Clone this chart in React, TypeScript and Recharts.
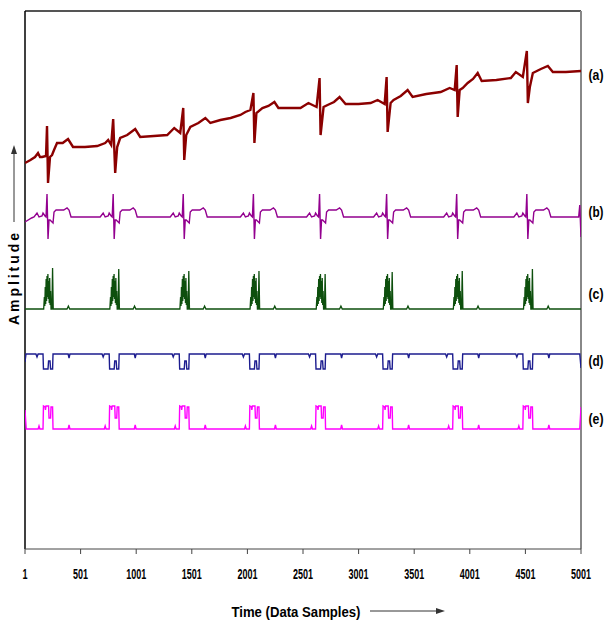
import { Line, LineChart, ReferenceLine, XAxis, YAxis } from "recharts";

const X_TICKS = [1, 501, 1001, 1501, 2001, 2501, 3001, 3501, 4001, 4501, 5001];
const SERIES_LABELS = ["(a)", "(b)", "(c)", "(d)", "(e)"];

// sample index of the R peak of every beat
const BEATS = [199, 794, 1424, 2055, 2650, 3253, 3883, 4514];

// (a) raw ECG with baseline wander, [sample, amplitude]
const SIGNAL_A = [
  [1, 386], [50, 389], [91, 392], [118, 396], [136, 392], [154, 392], [190, 393],
  [199, 423], [208, 366], [226, 392], [244, 394], [262, 399], [289, 406], [340, 406],
  [388, 410], [433, 402], [540, 402], [650, 403], [722, 406], [749, 409], [776, 404],
  [794, 430], [812, 376], [830, 402], [857, 411], [920, 414], [992, 420], [1037, 412],
  [1160, 413], [1280, 414], [1343, 421], [1397, 416], [1424, 441], [1433, 389],
  [1451, 414], [1488, 422], [1560, 426], [1623, 431], [1668, 426], [1758, 429],
  [1850, 431], [1938, 434], [1983, 437], [2028, 439], [2055, 456], [2064, 406],
  [2082, 436], [2136, 441], [2190, 443], [2244, 447], [2280, 441], [2380, 441],
  [2478, 441], [2550, 446], [2623, 442], [2650, 471], [2659, 414], [2686, 442],
  [2722, 444], [2780, 447], [2830, 452], [2884, 445], [3000, 445], [3109, 446],
  [3172, 449], [3235, 445], [3253, 472], [3262, 417], [3289, 446], [3316, 449],
  [3380, 453], [3442, 459], [3487, 452], [3610, 455], [3739, 457], [3820, 461],
  [3865, 459], [3883, 484], [3892, 432], [3910, 459], [3937, 461], [3982, 466],
  [4030, 470], [4072, 476], [4108, 468], [4240, 469], [4370, 471], [4415, 477],
  [4478, 472], [4514, 498], [4523, 446], [4541, 462], [4568, 476], [4640, 480],
  [4703, 483], [4748, 477], [4865, 477], [5001, 478],
];

// (b) filtered signal: one beat, [offset from R, amplitude]
const BASE_B = 332;
const HEAD_B = [[1, -5], [60, -1]];
const BEAT_B = [
  [-117, 0], [-90, 4], [-72, 0], [-45, 1], [-36, 4], [-18, 1], [-9, 0], [0, 23],
  [9, -22], [18, -3], [27, -3], [54, -6], [63, 5], [81, 7], [150, 7], [180, 9],
  [198, 7], [216, 0],
];
const TAIL_B = [[4980, 0], [4990, 12], [5001, -20]];

// (c) energy bursts
const BASE_C = 240;
const BEAT_C = [
  [-30, 0], [-24, 12], [-20, 3], [-16, 22], [-12, 5], [-8, 30], [-4, 8], [0, 33],
  [4, 12], [8, 35], [12, 10], [16, 28], [20, 6], [24, 31], [28, 4], [32, 18], [36, 0],
  [44, 0],
];
const SPIKE_C = [41, 40, 38, 38, 35, 37, 38, 40];
const T_WAVE_C = [[56, 0], [180, 0], [192, 3], [204, 0]];

// (d) detector output
const BASE_D = 195;
const HEAD_D = [[1, -8], [10, 0]];
const BEAT_D = [
  [-100, 0], [-90, -3], [-80, 0], [-36, 0], [-32, -15], [9, -15], [14, -7], [27, -7],
  [32, -15], [50, -15], [54, 0], [190, 0], [198, -4], [206, 0],
];
const TAIL_D = [[4990, 0], [5001, -14]];

// (e) detector output, inverted
const BASE_E = 120;
const HEAD_E = [[1, 19], [12, 0]];
const BEAT_E = [
  [-80, 0], [-72, 3], [-64, 0], [-36, 0], [-32, 23], [-18, 22], [-14, 19], [-9, 23],
  [14, 23], [18, 11], [32, 11], [36, 22], [50, 22], [54, 0], [190, 0], [198, 4],
  [206, 0],
];
const TAIL_E = [[4990, 0], [5001, 22]];

type Point = { x: number; y: number };

function toPoints(pairs: number[][], base = 0, shift = 0): Point[] {
  return pairs.map(([x, y]) => ({ x: x + shift, y: y + base }));
}

function buildBeats(base: number, head: number[][], beat: number[][], tail: number[][]) {
  const points = toPoints(head, base);
  BEATS.forEach((r) => points.push(...toPoints(beat, base, r)));
  points.push(...toPoints(tail, base));
  return points;
}

const dataA = toPoints(SIGNAL_A);
const dataB = buildBeats(BASE_B, HEAD_B, BEAT_B, TAIL_B);
const dataD = buildBeats(BASE_D, HEAD_D, BEAT_D, TAIL_D);
const dataE = buildBeats(BASE_E, HEAD_E, BEAT_E, TAIL_E);

const dataC: Point[] = [{ x: 1, y: BASE_C }];
BEATS.forEach((r, i) => {
  dataC.push(...toPoints(BEAT_C, BASE_C, r));
  dataC.push({ x: r + 50, y: BASE_C + SPIKE_C[i] });
  dataC.push(...toPoints(T_WAVE_C, BASE_C, r));
});
dataC.push({ x: 5001, y: BASE_C });

const SERIES = [
  { data: dataA, color: "#8b0000", width: 2.4 },
  { data: dataB, color: "#93008f", width: 1.4 },
  { data: dataC, color: "#0d4f0d", width: 1.3 },
  { data: dataD, color: "#1c1c8f", width: 1.4 },
  { data: dataE, color: "#ff00ff", width: 1.4 },
];

const LABEL_Y = [74, 211, 293, 360, 418];
const FONT = "'Liberation Sans', Arial, sans-serif";

function XTick(props: any) {
  const { x, y, payload } = props;
  const label = String(payload.value);
  return (
    <text
      x={x}
      y={y}
      dy="0.71em"
      textAnchor="middle"
      fontFamily={FONT}
      fontWeight={700}
      fontSize={15}
      fill="#000"
      textLength={label.length * 5}
      lengthAdjust="spacingAndGlyphs"
    >
      {label}
    </text>
  );
}

export default function App() {
  return (
    <div style={{ position: "absolute", left: 0, top: 0, width: 609, height: 621, background: "#fff" }}>
      <LineChart width={609} height={621} margin={{ top: 11, right: 28, left: 25, bottom: 42 }}>
        <XAxis
          dataKey="x"
          type="number"
          domain={[1, 5001]}
          ticks={X_TICKS}
          allowDataOverflow
          height={30}
          interval={0}
          stroke="#444"
          tickSize={5}
          tickMargin={14}
          tick={<XTick />}
        />
        <YAxis yAxisId="left" type="number" domain={[0, 538]} hide />
        <ReferenceLine yAxisId="left" y={538} stroke="#555" strokeWidth={2} ifOverflow="visible" />
        <ReferenceLine yAxisId="left" x={5001} stroke="#888" strokeWidth={2} ifOverflow="visible" />
        <ReferenceLine yAxisId="left" x={1} stroke="#000" strokeWidth={1.5} ifOverflow="visible" />
        {SERIES.map((s, i) => (
          <Line
            key={i}
            yAxisId="left"
            data={s.data}
            dataKey="y"
            type="linear"
            stroke={s.color}
            strokeWidth={s.width}
            dot={false}
            activeDot={false}
            isAnimationActive={false}
          />
        ))}
      </LineChart>
      <svg width={609} height={621} style={{ position: "absolute", left: 0, top: 0, pointerEvents: "none" }}>
        {SERIES_LABELS.map((label, i) => (
          <text
            key={label}
            x={596}
            y={LABEL_Y[i]}
            textAnchor="middle"
            dominantBaseline="central"
            fontFamily={FONT}
            fontWeight={700}
            fontSize={15}
            textLength={15}
            lengthAdjust="spacingAndGlyphs"
          >
            {label}
          </text>
        ))}
        <text
          x={14}
          y={279}
          transform="rotate(-90 14 279)"
          textAnchor="middle"
          dominantBaseline="central"
          fontFamily={FONT}
          fontWeight={700}
          fontSize={14}
          textLength={92}
          lengthAdjust="spacing"
        >
          Amplitude
        </text>
        <line x1={14} y1={222} x2={14} y2={152} stroke="#333" strokeWidth={1} />
        <polygon points="14,145 11,154 17,154" fill="#333" />
        <text
          x={296}
          y={612}
          textAnchor="middle"
          dominantBaseline="central"
          fontFamily={FONT}
          fontWeight={700}
          fontSize={14}
          textLength={129}
          lengthAdjust="spacingAndGlyphs"
        >
          Time (Data Samples)
        </text>
        <line x1={370} y1={611} x2={437} y2={611} stroke="#333" strokeWidth={1} />
        <polygon points="445,611 436,608 436,614" fill="#333" />
      </svg>
    </div>
  );
}
